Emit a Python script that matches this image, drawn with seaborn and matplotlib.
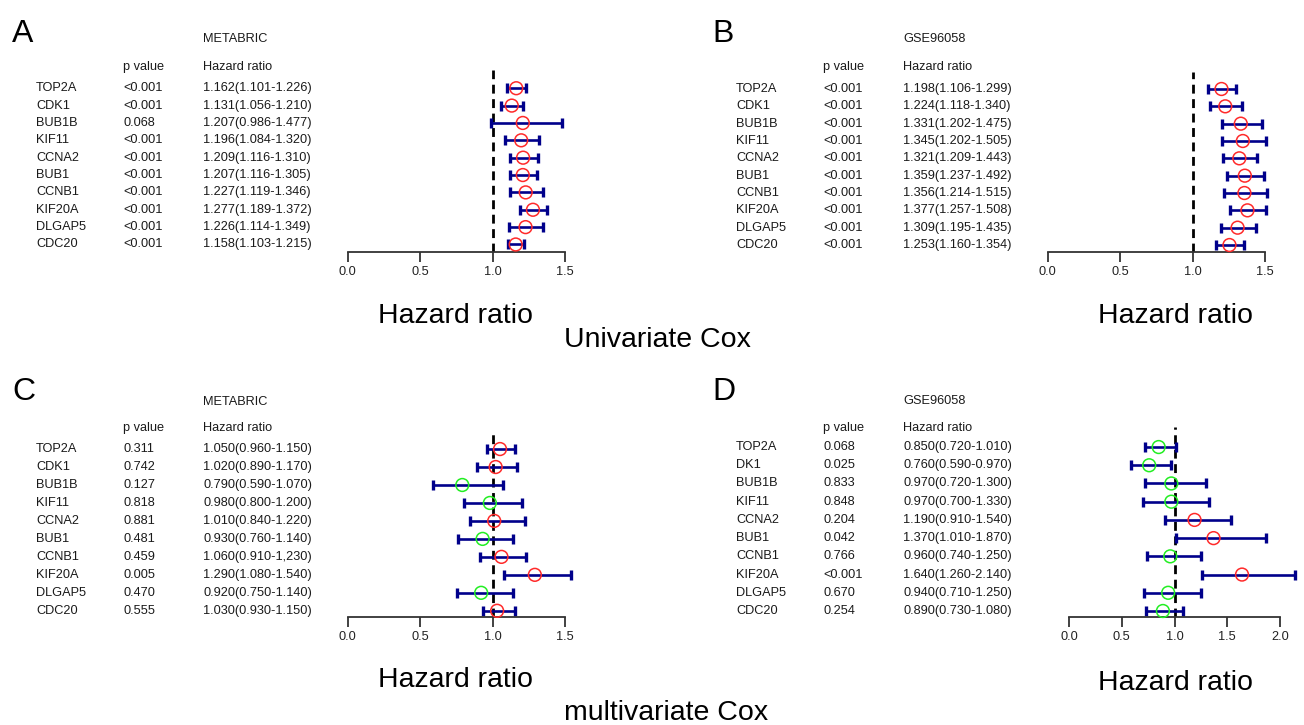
import numpy as np
import pandas as pd
import matplotlib
matplotlib.use("Agg")
import matplotlib.pyplot as plt
import matplotlib.transforms as mtransforms
import seaborn as sns

# ---------------- data ----------------
genes = ["TOP2A", "CDK1", "BUB1B", "KIF11", "CCNA2", "BUB1", "CCNB1", "KIF20A", "DLGAP5", "CDC20"]
genes_d = ["TOP2A", "DK1", "BUB1B", "KIF11", "CCNA2", "BUB1", "CCNB1", "KIF20A", "DLGAP5", "CDC20"]

# A: METABRIC, univariate
a_p = ["<0.001", "<0.001", "0.068", "<0.001", "<0.001", "<0.001", "<0.001", "<0.001", "<0.001", "<0.001"]
a_hr = [1.162, 1.131, 1.207, 1.196, 1.209, 1.207, 1.227, 1.277, 1.226, 1.158]
a_lo = [1.101, 1.056, 0.986, 1.084, 1.116, 1.116, 1.119, 1.189, 1.114, 1.103]
a_hi = [1.226, 1.210, 1.477, 1.320, 1.310, 1.305, 1.346, 1.372, 1.349, 1.215]

# B: GSE96058, univariate
b_p = ["<0.001"] * 10
b_hr = [1.198, 1.224, 1.331, 1.345, 1.321, 1.359, 1.356, 1.377, 1.309, 1.253]
b_lo = [1.106, 1.118, 1.202, 1.202, 1.209, 1.237, 1.214, 1.257, 1.195, 1.160]
b_hi = [1.299, 1.340, 1.475, 1.505, 1.443, 1.492, 1.515, 1.508, 1.435, 1.354]

# C: METABRIC, multivariate
c_p = ["0.311", "0.742", "0.127", "0.818", "0.881", "0.481", "0.459", "0.005", "0.470", "0.555"]
c_hr = [1.050, 1.020, 0.790, 0.980, 1.010, 0.930, 1.060, 1.290, 0.920, 1.030]
c_lo = [0.960, 0.890, 0.590, 0.800, 0.840, 0.760, 0.910, 1.080, 0.750, 0.930]
c_hi = [1.150, 1.170, 1.070, 1.200, 1.220, 1.140, 1.230, 1.540, 1.140, 1.150]

# D: GSE96058, multivariate
d_p = ["0.068", "0.025", "0.833", "0.848", "0.204", "0.042", "0.766", "<0.001", "0.670", "0.254"]
d_hr = [0.850, 0.760, 0.970, 0.970, 1.190, 1.370, 0.960, 1.640, 0.940, 0.890]
d_lo = [0.720, 0.590, 0.720, 0.700, 0.910, 1.010, 0.740, 1.260, 0.710, 0.730]
d_hi = [1.010, 0.970, 1.300, 1.330, 1.540, 1.870, 1.250, 2.140, 1.250, 1.080]

ticks_15 = [0.0, 0.5, 1.0, 1.5]
ticks_20 = [0.0, 0.5, 1.0, 1.5, 2.0]


def hr_labels(hr, lo, hi):
    return [f"{h:.3f}({l:.3f}-{u:.3f})" for h, l, u in zip(hr, lo, hi)]


c_text = hr_labels(c_hr, c_lo, c_hi)
c_text[6] = "1.060(0.910-1,230)"  # as printed in the original figure

# ---------------- style ----------------
sns.set_theme(style="white")
plt.rcParams["font.family"] = ["Liberation Sans", "DejaVu Sans"]

W, H = 1304, 725
fig = plt.figure(figsize=(W / 100, H / 100), dpi=100)


def fx(x):
    return x / W


def fy(y):
    return 1 - y / H


NAVY = "#00008B"
RED = "#FF2A2A"
GREEN = "#22EE22"
TXT = "#1a1a1a"
SMALL = 9.2

panels = [
    dict(letter="A", title="METABRIC", genes=genes, p=a_p, hr=a_hr, lo=a_lo, hi=a_hi,
         text=hr_labels(a_hr, a_lo, a_hi), ticks=ticks_15,
         box=(347.7, 70, 565.3, 252.3), ylim=(9.45, -1.05), x0=0,
         ytitle=39, yhead=67, letter_base=42, big=(456, 316)),
    dict(letter="B", title="GSE96058", genes=genes, p=b_p, hr=b_hr, lo=b_lo, hi=b_hi,
         text=hr_labels(b_hr, b_lo, b_hi), ticks=ticks_15,
         box=(1047.7, 72, 1265.3, 252.3), ylim=(9.42, -0.98), x0=700,
         ytitle=39, yhead=67, letter_base=42, big=(1176, 316)),
    dict(letter="C", title="METABRIC", genes=genes, p=c_p, hr=c_hr, lo=c_lo, hi=c_hi,
         text=c_text, ticks=ticks_15,
         box=(347.7, 430, 565.3, 616.7), ylim=(9.33, -1.06), x0=0,
         ytitle=402, yhead=428, letter_base=400, big=(455, 680)),
    dict(letter="D", title="GSE96058", genes=genes_d, p=d_p, hr=d_hr, lo=d_lo, hi=d_hi,
         text=hr_labels(d_hr, d_lo, d_hi), ticks=ticks_20,
         box=(1069, 427, 1280, 617), ylim=(9.33, -1.10), x0=700,
         ytitle=401, yhead=428, letter_base=400, big=(1176, 683)),
]

for P in panels:
    l, t, r, b = P["box"]
    ax = fig.add_axes([fx(l), fy(b), (r - l) / W, (b - t) / H])
    ax.patch.set_alpha(0)

    df = pd.DataFrame({"gene": P["genes"], "row": np.arange(len(P["genes"])),
                       "hr": P["hr"], "lo": P["lo"], "hi": P["hi"]})
    df["dir"] = np.where(df["hr"] > 1, "up", "down")

    ax.axvline(1.0, color="black", lw=2.0, ls=(0, (3.2, 2.0)), zorder=1)
    ax.hlines(df["row"], df["lo"], df["hi"], color=NAVY, lw=1.9, zorder=2, clip_on=False)
    for col in ["lo", "hi"]:
        ax.plot(df[col], df["row"], ls="none", marker="|", ms=6.5, mew=2.4,
                color=NAVY, zorder=2, clip_on=False)
    sns.scatterplot(data=df, x="hr", y="row", hue="dir",
                    palette={"up": RED, "down": GREEN}, s=85, legend=False,
                    ax=ax, zorder=3, clip_on=False)
    coll = ax.collections[-1]
    fc = coll.get_facecolors()
    coll.set_edgecolors(fc)
    coll.set_facecolors("none")
    coll.set_linewidths(1.1)

    ax.set_xlim(P["ticks"][0], P["ticks"][-1])
    ax.set_ylim(P["ylim"])
    ax.set_xticks(P["ticks"])
    ax.set_xticklabels([f"{v:.1f}" for v in P["ticks"]])
    ax.set_yticks([])
    ax.set_xlabel("")
    ax.set_ylabel("")
    for s in ["top", "right", "left"]:
        ax.spines[s].set_visible(False)
    ax.spines["bottom"].set_color("#333333")
    ax.spines["bottom"].set_linewidth(1.3)
    ax.tick_params(axis="x", bottom=True, direction="out", length=7, width=1.3,
                   color="#333333", pad=3, labelsize=SMALL, labelcolor="#222222")

    # table text, rows aligned with the forest rows
    trans = mtransforms.blended_transform_factory(fig.transFigure, ax.transData)
    x0 = P["x0"]
    for i in range(len(df)):
        ax.text(fx(x0 + 36), i, P["genes"][i], transform=trans, ha="left", va="center",
                fontsize=SMALL, color=TXT)
        ax.text(fx(x0 + 123), i, P["p"][i], transform=trans, ha="left", va="center",
                fontsize=SMALL, color=TXT)
        ax.text(fx(x0 + 203), i, P["text"][i], transform=trans, ha="left", va="center",
                fontsize=SMALL, color=TXT)

    fig.text(fx(x0 + 123), fy(P["yhead"]), "p value", ha="left", va="center",
             fontsize=SMALL, color=TXT)
    fig.text(fx(x0 + 203), fy(P["yhead"]), "Hazard ratio", ha="left", va="center",
             fontsize=SMALL, color=TXT)
    fig.text(fx(x0 + 203), fy(P["ytitle"]), P["title"], ha="left", va="center",
             fontsize=SMALL, color=TXT)
    fig.text(fx(x0 + 12), fy(P["letter_base"]), P["letter"], ha="left", va="baseline",
             fontsize=23, color="black")
    fig.text(fx(P["big"][0]), fy(P["big"][1]), "Hazard ratio", ha="center", va="center",
             fontsize=20.5, color="black")

fig.text(fx(564), fy(340), "Univariate Cox", ha="left", va="center", fontsize=20.5, color="black")
fig.text(fx(564), fy(713), "multivariate Cox", ha="left", va="center", fontsize=20.5, color="black")

fig.savefig("out.png", dpi=100, facecolor="white")
